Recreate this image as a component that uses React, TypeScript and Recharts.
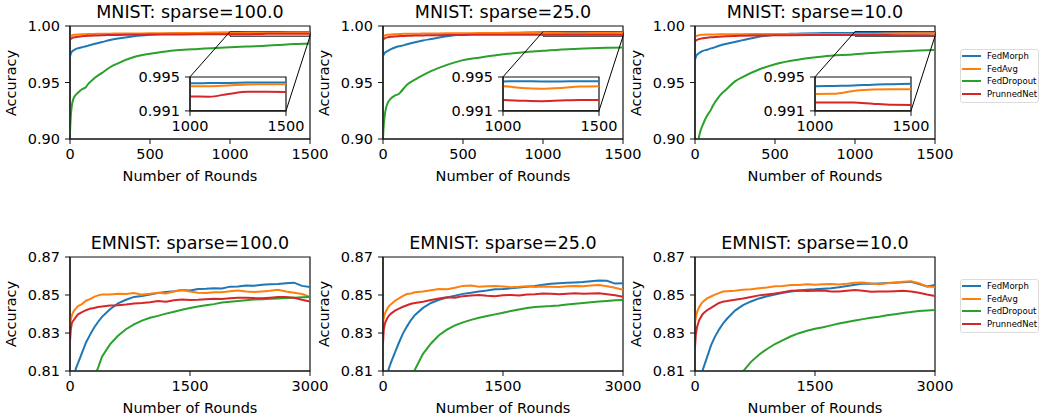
import React from 'react';
import { LineChart, Line, XAxis, YAxis, ReferenceArea, ReferenceLine } from 'recharts';

const SERIES_NAMES = ['FedMorph', 'FedAvg', 'FedDropout', 'PrunnedNet'];
const SERIES_COLORS = ['#1f77b4', '#ff7f0e', '#2ca02c', '#d62728'];

const MNIST_TITLES = ['MNIST: sparse=100.0', 'MNIST: sparse=25.0', 'MNIST: sparse=10.0'];
const EMNIST_TITLES = ['EMNIST: sparse=100.0', 'EMNIST: sparse=25.0', 'EMNIST: sparse=10.0'];

const MNIST_X_TICKS = [0, 500, 1000, 1500];
const MNIST_Y_TICKS = [0.9, 0.95, 1.0];
const MNIST_INSET_X_TICKS = [1000, 1500];
const MNIST_INSET_Y_TICKS = [0.991, 0.995];
const EMNIST_X_TICKS = [0, 1500, 3000];
const EMNIST_Y_TICKS = [0.81, 0.83, 0.85, 0.87];

const MNIST_ROUNDS = [0, 5, 10, 20, 30, 50, 75, 100, 110, 150, 200, 250, 300, 400, 500, 600, 800, 1000, 1100, 1200, 1300, 1400, 1500];

const MNIST100_FEDMORPH = [0.973, 0.9755, 0.977, 0.9783, 0.9792, 0.9803, 0.9812, 0.982, 0.9824, 0.984, 0.9858, 0.9876, 0.989, 0.991, 0.9923, 0.9932, 0.9939, 0.99426, 0.99428, 0.9943, 0.99434, 0.99436, 0.99436];
const MNIST100_FEDAVG = [0.9905, 0.991, 0.9915, 0.992, 0.9922, 0.9925, 0.9927, 0.9928, 0.9929, 0.993, 0.9931, 0.9932, 0.9933, 0.9934, 0.9935, 0.9936, 0.9938, 0.9939, 0.99392, 0.994, 0.99412, 0.99415, 0.99415];
const MNIST100_FEDDROPOUT = [0.906, 0.92, 0.928, 0.935, 0.938, 0.941, 0.944, 0.946, 0.948, 0.9535, 0.9585, 0.9635, 0.967, 0.9725, 0.9755, 0.9775, 0.9797, 0.9812, 0.9818, 0.9824, 0.9832, 0.984, 0.9845];
const MNIST100_PRUNNEDNET = [0.988, 0.9885, 0.989, 0.9898, 0.99, 0.9905, 0.991, 0.9912, 0.9913, 0.9915, 0.9918, 0.992, 0.9921, 0.9922, 0.9924, 0.9925, 0.9926, 0.99271, 0.99268, 0.993, 0.99325, 0.99325, 0.99323];

const MNIST25_FEDMORPH = [0.973, 0.975, 0.976, 0.9772, 0.978, 0.9795, 0.981, 0.982, 0.9823, 0.9838, 0.9857, 0.9872, 0.9885, 0.991, 0.9925, 0.9933, 0.994, 0.99448, 0.9945, 0.99448, 0.99448, 0.9945, 0.9945];
const MNIST25_FEDAVG = [0.9905, 0.991, 0.9915, 0.992, 0.9922, 0.9925, 0.9927, 0.9929, 0.993, 0.9931, 0.9932, 0.9933, 0.9934, 0.9935, 0.9936, 0.9937, 0.9938, 0.99392, 0.9937, 0.99362, 0.9937, 0.99388, 0.99392];
const MNIST25_FEDDROPOUT = [0.901, 0.913, 0.92, 0.928, 0.932, 0.936, 0.9385, 0.94, 0.9415, 0.948, 0.9525, 0.9565, 0.96, 0.9656, 0.9698, 0.972, 0.9757, 0.978, 0.979, 0.9797, 0.9803, 0.9807, 0.981];
const MNIST25_PRUNNEDNET = [0.988, 0.9885, 0.989, 0.9897, 0.99, 0.9905, 0.9908, 0.991, 0.9911, 0.9913, 0.9915, 0.9917, 0.9918, 0.992, 0.9921, 0.9922, 0.99225, 0.99228, 0.9922, 0.99215, 0.99222, 0.99228, 0.99228];

const MNIST10_FEDMORPH = [0.97, 0.9725, 0.974, 0.9755, 0.9765, 0.978, 0.979, 0.9802, 0.9806, 0.9825, 0.9843, 0.9858, 0.9875, 0.9905, 0.9922, 0.9931, 0.9937, 0.9939, 0.99395, 0.994, 0.9941, 0.99415, 0.9942];
const MNIST10_FEDAVG = [0.9905, 0.991, 0.9913, 0.9917, 0.992, 0.9922, 0.9924, 0.9925, 0.9925, 0.9926, 0.9927, 0.9928, 0.9928, 0.9929, 0.9929, 0.993, 0.993, 0.993, 0.99302, 0.99335, 0.99352, 0.99354, 0.99354];
const MNIST10_FEDDROPOUT = [0.86, 0.875, 0.885, 0.898, 0.905, 0.913, 0.9205, 0.926, 0.929, 0.9375, 0.9445, 0.951, 0.955, 0.9615, 0.9662, 0.9692, 0.973, 0.975, 0.9762, 0.977, 0.9777, 0.9783, 0.9788];
const MNIST10_PRUNNEDNET = [0.9865, 0.987, 0.9875, 0.9882, 0.9886, 0.9892, 0.9897, 0.99, 0.9901, 0.9905, 0.9909, 0.9912, 0.9914, 0.9916, 0.9918, 0.9919, 0.992, 0.992, 0.992, 0.992, 0.99185, 0.99172, 0.9917];

const EMNIST_ROUNDS = [0, 10, 25, 50, 75, 100, 150, 200, 250, 300, 350, 400, 500, 600, 700, 800, 900, 1000, 1100, 1200, 1300, 1400, 1500, 1600, 1700, 1800, 1900, 2000, 2100, 2200, 2300, 2400, 2500, 2600, 2700, 2800, 2900, 3000];

const EMNIST100_FEDMORPH = [0.795, 0.798, 0.802, 0.8075, 0.8115, 0.8142, 0.8195, 0.825, 0.829, 0.8328, 0.8358, 0.8385, 0.8425, 0.8456, 0.8475, 0.849, 0.8495, 0.8502, 0.851, 0.8516, 0.852, 0.8526, 0.8524, 0.8532, 0.8533, 0.8536, 0.8534, 0.8544, 0.8545, 0.855, 0.8549, 0.8554, 0.8557, 0.8558, 0.8562, 0.8565, 0.8548, 0.8542];
const EMNIST100_FEDAVG = [0.834, 0.837, 0.8395, 0.8418, 0.843, 0.8442, 0.8452, 0.847, 0.8478, 0.849, 0.8498, 0.8502, 0.8503, 0.8507, 0.8505, 0.851, 0.8502, 0.8506, 0.8512, 0.8508, 0.8518, 0.8526, 0.8518, 0.8512, 0.851, 0.8515, 0.8514, 0.852, 0.8524, 0.8519, 0.8516, 0.8519, 0.8522, 0.8527, 0.8518, 0.8512, 0.8505, 0.849];
const EMNIST100_FEDDROPOUT = [0.77, 0.772, 0.775, 0.779, 0.783, 0.786, 0.792, 0.797, 0.802, 0.807, 0.8115, 0.8175, 0.824, 0.8285, 0.832, 0.8345, 0.8365, 0.838, 0.839, 0.8402, 0.8412, 0.8422, 0.8432, 0.844, 0.8446, 0.8452, 0.846, 0.8464, 0.8468, 0.8472, 0.8476, 0.8478, 0.848, 0.8482, 0.8484, 0.8486, 0.8488, 0.849];
const EMNIST100_PRUNNEDNET = [0.8255, 0.832, 0.8355, 0.837, 0.8385, 0.8398, 0.841, 0.842, 0.8428, 0.8432, 0.8437, 0.844, 0.8445, 0.8446, 0.845, 0.8455, 0.8458, 0.8462, 0.8468, 0.8465, 0.8472, 0.8476, 0.8474, 0.8475, 0.8478, 0.848, 0.8479, 0.8483, 0.8485, 0.8486, 0.8484, 0.8483, 0.8486, 0.8489, 0.849, 0.8486, 0.8475, 0.8465];

const EMNIST25_FEDMORPH = [0.797, 0.799, 0.803, 0.808, 0.8115, 0.8145, 0.8198, 0.825, 0.8298, 0.8335, 0.8368, 0.8395, 0.8432, 0.8458, 0.8475, 0.8487, 0.8496, 0.8506, 0.8512, 0.8519, 0.8524, 0.853, 0.8532, 0.8535, 0.854, 0.8544, 0.8548, 0.8554, 0.8559, 0.8562, 0.8564, 0.8566, 0.8568, 0.8572, 0.8576, 0.8575, 0.856, 0.8562];
const EMNIST25_FEDAVG = [0.8355, 0.838, 0.8404, 0.8425, 0.8442, 0.8452, 0.847, 0.8482, 0.8495, 0.8505, 0.8508, 0.8514, 0.8518, 0.8525, 0.8531, 0.853, 0.8538, 0.8548, 0.855, 0.8543, 0.8546, 0.8548, 0.8545, 0.8541, 0.8543, 0.8546, 0.8542, 0.8545, 0.8544, 0.8542, 0.8546, 0.8548, 0.8546, 0.855, 0.8552, 0.8546, 0.8538, 0.8527];
const EMNIST25_FEDDROPOUT = [0.765, 0.767, 0.77, 0.774, 0.778, 0.782, 0.788, 0.793, 0.798, 0.803, 0.807, 0.8108, 0.819, 0.8245, 0.8288, 0.8318, 0.834, 0.8356, 0.8369, 0.838, 0.8389, 0.8398, 0.8407, 0.8416, 0.8424, 0.8431, 0.8437, 0.844, 0.8442, 0.8445, 0.845, 0.8454, 0.8458, 0.8462, 0.8466, 0.8469, 0.8472, 0.8474];
const EMNIST25_PRUNNEDNET = [0.8245, 0.832, 0.8352, 0.8375, 0.8392, 0.8402, 0.8418, 0.8428, 0.8438, 0.8446, 0.8454, 0.8458, 0.8465, 0.8474, 0.8482, 0.8488, 0.8486, 0.8494, 0.8497, 0.85, 0.8496, 0.8494, 0.8499, 0.85, 0.8498, 0.8503, 0.8504, 0.8508, 0.8506, 0.8504, 0.8507, 0.8509, 0.8506, 0.8508, 0.8509, 0.8504, 0.8499, 0.8491];

const EMNIST10_FEDMORPH = [0.792, 0.794, 0.797, 0.802, 0.807, 0.811, 0.8172, 0.8235, 0.8281, 0.8318, 0.835, 0.8375, 0.8418, 0.8447, 0.8466, 0.8482, 0.8493, 0.8503, 0.8512, 0.8519, 0.8524, 0.8528, 0.853, 0.8533, 0.8536, 0.8541, 0.8547, 0.8554, 0.856, 0.8559, 0.8561, 0.8563, 0.8565, 0.8567, 0.857, 0.8558, 0.8545, 0.8553];
const EMNIST10_FEDAVG = [0.8355, 0.838, 0.841, 0.8435, 0.8452, 0.8465, 0.8482, 0.8492, 0.8502, 0.851, 0.8518, 0.852, 0.8522, 0.8528, 0.853, 0.8536, 0.854, 0.8546, 0.8548, 0.8553, 0.8552, 0.8556, 0.8554, 0.8556, 0.8558, 0.8555, 0.8559, 0.8564, 0.8566, 0.856, 0.8557, 0.8562, 0.8566, 0.857, 0.8572, 0.8562, 0.8545, 0.8542];
const EMNIST10_FEDDROPOUT = [0.74, 0.742, 0.745, 0.75, 0.755, 0.76, 0.768, 0.775, 0.782, 0.788, 0.793, 0.798, 0.805, 0.8098, 0.8148, 0.8186, 0.8216, 0.8242, 0.8263, 0.8283, 0.8299, 0.8312, 0.8322, 0.833, 0.834, 0.835, 0.8358, 0.8366, 0.8373, 0.838, 0.8386, 0.8393, 0.8399, 0.8405, 0.841, 0.8416, 0.8419, 0.8421];
const EMNIST10_PRUNNEDNET = [0.8225, 0.829, 0.833, 0.8365, 0.8385, 0.8402, 0.842, 0.8432, 0.8445, 0.8458, 0.8465, 0.8468, 0.8475, 0.8482, 0.849, 0.8498, 0.8503, 0.8508, 0.8515, 0.8522, 0.8524, 0.8521, 0.8523, 0.8524, 0.8519, 0.8518, 0.8522, 0.8526, 0.8522, 0.8517, 0.8519, 0.8518, 0.852, 0.8522, 0.8518, 0.8512, 0.8503, 0.8495];

type Row = { round: number; [k: string]: number };

function buildRows(rounds: number[], series: number[][]): Row[] {
  return rounds.map((r, i) => {
    const row: Row = { round: r };
    SERIES_NAMES.forEach((name, s) => {
      row[name] = series[s][i];
    });
    return row;
  });
}

const MNIST_ROWS = [
  buildRows(MNIST_ROUNDS, [MNIST100_FEDMORPH, MNIST100_FEDAVG, MNIST100_FEDDROPOUT, MNIST100_PRUNNEDNET]),
  buildRows(MNIST_ROUNDS, [MNIST25_FEDMORPH, MNIST25_FEDAVG, MNIST25_FEDDROPOUT, MNIST25_PRUNNEDNET]),
  buildRows(MNIST_ROUNDS, [MNIST10_FEDMORPH, MNIST10_FEDAVG, MNIST10_FEDDROPOUT, MNIST10_PRUNNEDNET]),
];
const EMNIST_ROWS = [
  buildRows(EMNIST_ROUNDS, [EMNIST100_FEDMORPH, EMNIST100_FEDAVG, EMNIST100_FEDDROPOUT, EMNIST100_PRUNNEDNET]),
  buildRows(EMNIST_ROUNDS, [EMNIST25_FEDMORPH, EMNIST25_FEDAVG, EMNIST25_FEDDROPOUT, EMNIST25_PRUNNEDNET]),
  buildRows(EMNIST_ROUNDS, [EMNIST10_FEDMORPH, EMNIST10_FEDAVG, EMNIST10_FEDDROPOUT, EMNIST10_PRUNNEDNET]),
];

// layout
const FONT = 'DejaVu Sans';
const PLOT_LEFTS = [70, 383, 695];
const PLOT_W = 240;
const TOP_ROW = { top: 26, h: 113 };
const BOTTOM_ROW = { top: 257, h: 114 };
const YW = 60;
const MT = 12;
const MR = 22;
const XH = 32;
const INSET_FRAC = { x0: 0.5, x1: 0.9, y0: 0.25, y1: 0.55 };
const IYW = 56;
const IMT = 8;
const IMR = 22;
const IXH = 30;
const AXIS_COLOR = '#111';
const TICK_FS = 14.5;
const LABEL_FS = 14.5;
const TITLE_FS = 17.5;

const tickStyle = { fill: '#000', fontSize: TICK_FS, fontFamily: FONT };

type PanelProps = {
  plotLeft: number;
  plotTop: number;
  plotH: number;
  rows: Row[];
  xDomain: [number, number];
  xTicks: number[];
  yDomain: [number, number];
  yTicks: number[];
  title: string;
  lineType: 'monotone' | 'linear';
  inset?: { xDomain: [number, number]; yDomain: [number, number]; xTicks: number[]; yTicks: number[] };
};

function seriesLines(lineType: 'monotone' | 'linear') {
  return SERIES_NAMES.map((name, i) => (
    <Line
      key={name}
      dataKey={name}
      type={lineType}
      stroke={SERIES_COLORS[i]}
      strokeWidth={2}
      dot={false}
      activeDot={false}
      isAnimationActive={false}
    />
  ));
}

function frame(xDomain: [number, number], yDomain: [number, number], fill: string, fillOpacity: number) {
  return (
    <ReferenceArea
      key="frame"
      x1={xDomain[0]}
      x2={xDomain[1]}
      y1={yDomain[0]}
      y2={yDomain[1]}
      fill={fill}
      fillOpacity={fillOpacity}
      stroke={AXIS_COLOR}
      strokeWidth={1.2}
      ifOverflow="visible"
    />
  );
}

function Panel(p: PanelProps) {
  const [x0, x1] = p.xDomain;
  const [y0, y1] = p.yDomain;
  const chartW = YW + PLOT_W + MR;
  const chartH = MT + p.plotH + XH;
  const xFmt = (v: number) => String(v);
  const yFmt = (v: number) => v.toFixed(2);

  let insetEl = null;
  let marks = null;
  if (p.inset) {
    const tl = { x: x0 + INSET_FRAC.x0 * (x1 - x0), y: y0 + INSET_FRAC.y1 * (y1 - y0) };
    const br = { x: x0 + INSET_FRAC.x1 * (x1 - x0), y: y0 + INSET_FRAC.y0 * (y1 - y0) };
    const ix = p.inset;
    marks = [
      <ReferenceArea
        key="ra"
        x1={ix.xDomain[0]}
        x2={ix.xDomain[1]}
        y1={ix.yDomain[0]}
        y2={ix.yDomain[1]}
        fill="#ffffff"
        fillOpacity={0}
        stroke="#000"
        strokeWidth={1}
        ifOverflow="visible"
      />,
      <ReferenceLine
        key="c1"
        segment={[{ x: ix.xDomain[0], y: ix.yDomain[1] }, tl]}
        stroke="#000"
        strokeWidth={1}
        ifOverflow="visible"
      />,
      <ReferenceLine
        key="c2"
        segment={[{ x: ix.xDomain[1], y: ix.yDomain[0] }, br]}
        stroke="#000"
        strokeWidth={1}
        ifOverflow="visible"
      />,
    ];
    const iw = (INSET_FRAC.x1 - INSET_FRAC.x0) * PLOT_W;
    const ih = (INSET_FRAC.y1 - INSET_FRAC.y0) * p.plotH;
    const ileft = p.plotLeft + INSET_FRAC.x0 * PLOT_W;
    const itop = p.plotTop + (1 - INSET_FRAC.y1) * p.plotH;
    insetEl = (
      <div style={{ position: 'absolute', left: ileft - IYW, top: itop - IMT }}>
        <LineChart
          width={IYW + iw + IMR}
          height={IMT + ih + IXH}
          data={p.rows}
          margin={{ top: IMT, right: IMR, bottom: 0, left: 0 }}
        >
          <XAxis
            dataKey="round"
            type="number"
            domain={ix.xDomain}
            ticks={ix.xTicks}
            allowDataOverflow
            height={IXH}
            tick={tickStyle}
            tickSize={5}
            tickMargin={5}
            tickLine={{ stroke: AXIS_COLOR }}
            axisLine={{ stroke: AXIS_COLOR, strokeWidth: 1.2 }}
            interval={0}
          />
          <YAxis
            type="number"
            domain={ix.yDomain}
            ticks={ix.yTicks}
            allowDataOverflow
            width={IYW}
            tick={tickStyle}
            tickSize={5}
            tickMargin={5}
            tickLine={{ stroke: AXIS_COLOR }}
            axisLine={{ stroke: AXIS_COLOR, strokeWidth: 1.2 }}
            tickFormatter={(v: number) => v.toFixed(3)}
            interval={0}
          />
          {frame(ix.xDomain, ix.yDomain, '#ffffff', 1)}
          {seriesLines(p.lineType)}
        </LineChart>
      </div>
    );
  }

  return (
    <>
      <div
        style={{
          position: 'absolute',
          left: p.plotLeft,
          width: PLOT_W,
          top: p.plotTop - 7.7 - 16,
          lineHeight: '20px',
          fontSize: TITLE_FS,
          textAlign: 'center',
          fontFamily: FONT,
          whiteSpace: 'nowrap',
        }}
      >
        {p.title}
      </div>
      <div style={{ position: 'absolute', left: p.plotLeft - YW, top: p.plotTop - MT }}>
        <LineChart width={chartW} height={chartH} data={p.rows} margin={{ top: MT, right: MR, bottom: 0, left: 0 }}>
          <XAxis
            dataKey="round"
            type="number"
            domain={p.xDomain}
            ticks={p.xTicks}
            allowDataOverflow
            height={XH}
            tick={tickStyle}
            tickSize={5}
            tickMargin={5}
            tickLine={{ stroke: AXIS_COLOR }}
            axisLine={{ stroke: AXIS_COLOR, strokeWidth: 1.2 }}
            tickFormatter={xFmt}
            interval={0}
          />
          <YAxis
            type="number"
            domain={p.yDomain}
            ticks={p.yTicks}
            allowDataOverflow
            width={YW}
            tick={tickStyle}
            tickSize={5}
            tickMargin={5}
            tickLine={{ stroke: AXIS_COLOR }}
            axisLine={{ stroke: AXIS_COLOR, strokeWidth: 1.2 }}
            tickFormatter={yFmt}
            interval={0}
          />
          {frame(p.xDomain, p.yDomain, '#ffffff', 0)}
          {seriesLines(p.lineType)}
          {marks}
        </LineChart>
      </div>
      {insetEl}
      <div
        style={{
          position: 'absolute',
          left: p.plotLeft,
          width: PLOT_W,
          top: p.plotTop + p.plotH + 42.5 - 13.5,
          lineHeight: '17px',
          fontSize: LABEL_FS,
          textAlign: 'center',
          fontFamily: FONT,
          whiteSpace: 'nowrap',
        }}
      >
        Number of Rounds
      </div>
      <div
        style={{
          position: 'absolute',
          left: p.plotLeft - 59,
          top: p.plotTop + p.plotH / 2,
          lineHeight: '17px',
          fontSize: LABEL_FS,
          fontFamily: FONT,
          whiteSpace: 'nowrap',
          transform: 'translate(-50%, -50%) rotate(-90deg)',
        }}
      >
        Accuracy
      </div>
    </>
  );
}

function LegendBox({ left, top }: { left: number; top: number }) {
  return (
    <div
      style={{
        position: 'absolute',
        left,
        top,
        width: 79,
        height: 54,
        boxSizing: 'border-box',
        border: '1px solid #dcdcdc',
        borderRadius: 3,
        background: '#fff',
        fontFamily: FONT,
      }}
    >
      {SERIES_NAMES.map((name, i) => (
        <div
          key={name}
          style={{
            position: 'absolute',
            left: 1,
            top: 6 + i * 12.7 - 6,
            height: 12,
            display: 'flex',
            alignItems: 'center',
            whiteSpace: 'nowrap',
          }}
        >
          <div style={{ width: 19, height: 2, background: SERIES_COLORS[i] }} />
          <span style={{ marginLeft: 6, fontSize: 8.5, lineHeight: '12px', color: '#000' }}>{name}</span>
        </div>
      ))}
    </div>
  );
}

export default function App() {
  return (
    <div style={{ position: 'absolute', left: 0, top: 0, width: 1039, height: 418, background: '#fff', overflow: 'hidden' }}>
      {PLOT_LEFTS.map((left, i) => (
        <Panel
          key={'m' + i}
          plotLeft={left}
          plotTop={TOP_ROW.top}
          plotH={TOP_ROW.h}
          rows={MNIST_ROWS[i]}
          xDomain={[0, 1500]}
          xTicks={MNIST_X_TICKS}
          yDomain={[0.9, 1.0]}
          yTicks={MNIST_Y_TICKS}
          title={MNIST_TITLES[i]}
          lineType="monotone"
          inset={{ xDomain: [1000, 1500], yDomain: [0.991, 0.995], xTicks: MNIST_INSET_X_TICKS, yTicks: MNIST_INSET_Y_TICKS }}
        />
      ))}
      {PLOT_LEFTS.map((left, i) => (
        <Panel
          key={'e' + i}
          plotLeft={left}
          plotTop={BOTTOM_ROW.top}
          plotH={BOTTOM_ROW.h}
          rows={EMNIST_ROWS[i]}
          xDomain={[0, 3000]}
          xTicks={EMNIST_X_TICKS}
          yDomain={[0.81, 0.87]}
          yTicks={EMNIST_Y_TICKS}
          title={EMNIST_TITLES[i]}
          lineType="linear"
        />
      ))}
      <LegendBox left={960} top={49} />
      <LegendBox left={960} top={279} />
    </div>
  );
}
